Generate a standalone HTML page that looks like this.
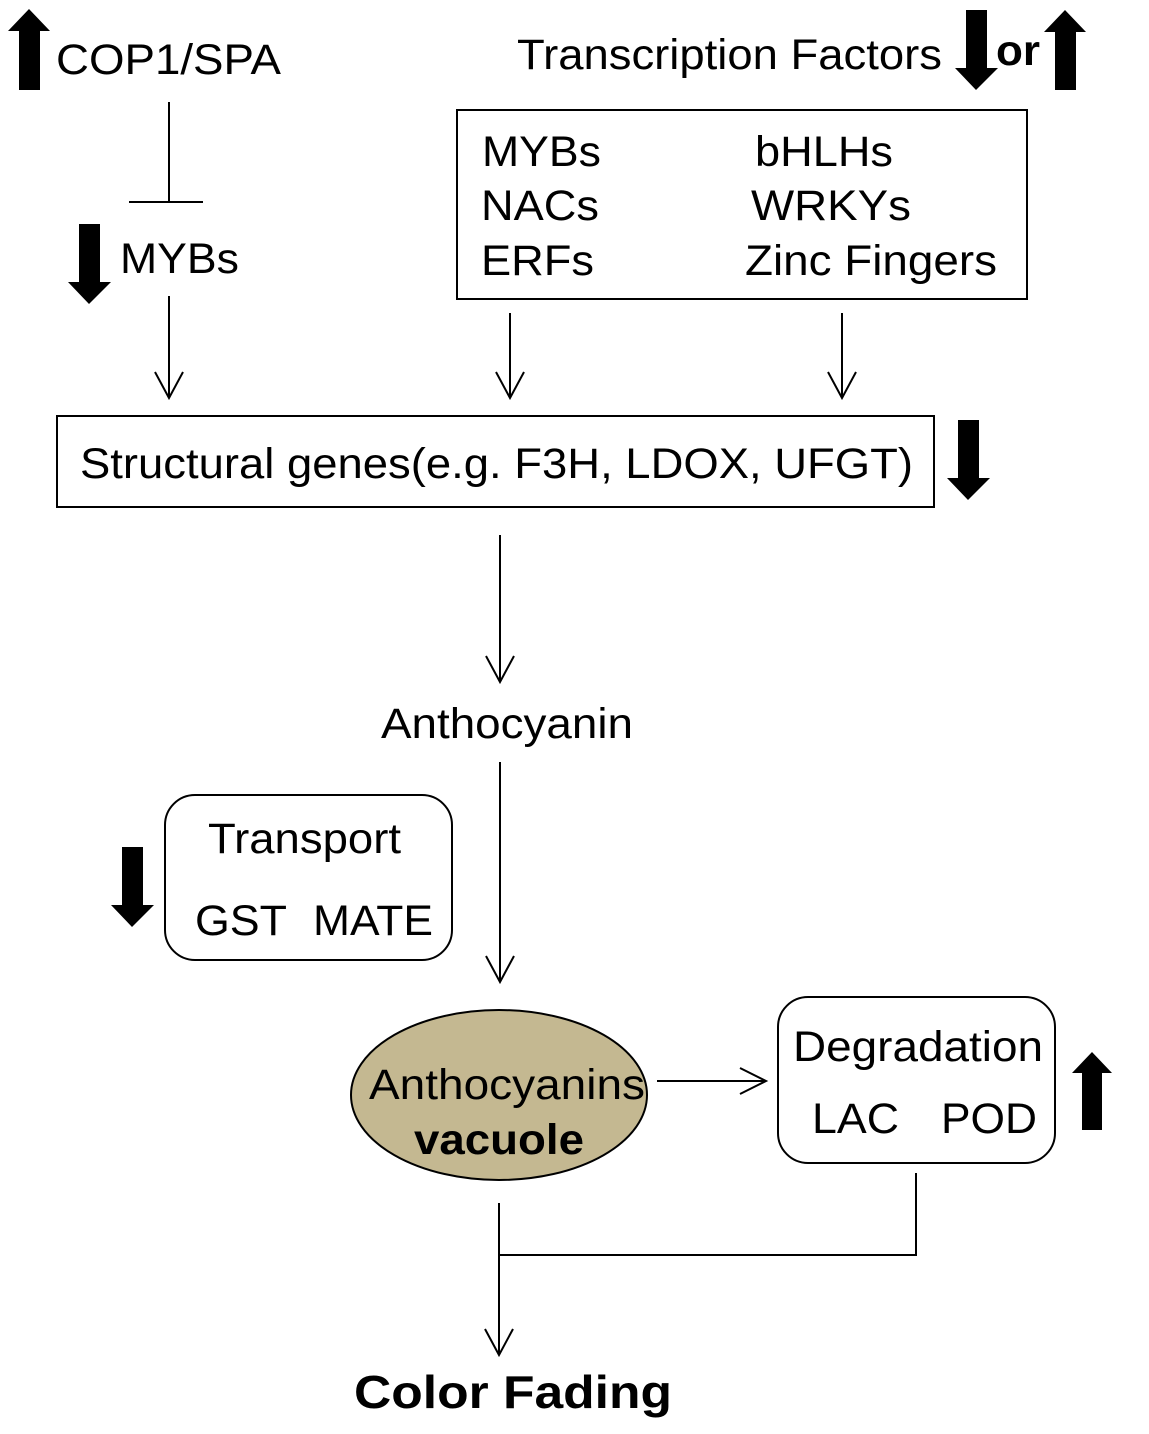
<!DOCTYPE html>
<html><head><meta charset="utf-8"><style>html,body{margin:0;padding:0;background:#fff}svg{display:block}</style></head>
<body>
<svg width="1149" height="1434" viewBox="0 0 1149 1434" xmlns="http://www.w3.org/2000/svg" font-family="Liberation Sans, Arial, sans-serif" fill="#000">
<g stroke="#000" stroke-width="2" fill="none">
<line x1="169" y1="102" x2="169" y2="202"/><line x1="129" y1="202" x2="203" y2="202"/>
<line x1="169" y1="296" x2="169" y2="398"/><polyline points="155,372 169,398 183,372"/>
<line x1="510" y1="313" x2="510" y2="398"/><polyline points="496,372 510,398 524,372"/>
<line x1="842" y1="313" x2="842" y2="398"/><polyline points="828,372 842,398 856,372"/>
<rect x="457" y="110" width="570" height="189"/>
<rect x="57" y="416" width="877" height="91"/>
<line x1="500" y1="535" x2="500" y2="682"/><polyline points="486,656 500,682 514,656"/>
<line x1="500" y1="762" x2="500" y2="982"/><polyline points="486,956 500,982 514,956"/>
<rect x="165" y="795" width="287" height="165" rx="30"/>
<rect x="778" y="997" width="277" height="166" rx="30"/>
<line x1="657" y1="1081" x2="766" y2="1081"/><polyline points="740,1068 766,1081 740,1094"/>
<polyline points="916,1173 916,1255 499,1255"/>
<line x1="499" y1="1203" x2="499" y2="1355"/><polyline points="485,1329 499,1355 513,1329"/>
</g>
<ellipse cx="499" cy="1095" rx="148" ry="85" fill="#c4b891" stroke="#000" stroke-width="2"/>
<polygon points="29,9 50,31 40,31 40,90 19,90 19,31 8,31"/>
<polygon points="79,224 100,224 100,282 111,282 89,304 68,282 79,282"/>
<polygon points="966,10 987,10 987,68 998,68 976,90 955,68 966,68"/>
<polygon points="1065,10 1086,32 1076,32 1076,90 1055,90 1055,32 1044,32"/>
<polygon points="958,420 979,420 979,478 990,478 968,500 947,478 958,478"/>
<polygon points="122,847 143,847 143,905 154,905 132,927 111,905 122,905"/>
<polygon points="1092,1052 1112,1073 1102,1073 1102,1130 1082,1130 1082,1073 1072,1073"/>
<g font-size="43">
<text x="56" y="74" textLength="225" lengthAdjust="spacingAndGlyphs">COP1/SPA</text>
<text x="120" y="273" textLength="119" lengthAdjust="spacingAndGlyphs">MYBs</text>
<text x="517" y="69" textLength="425" lengthAdjust="spacingAndGlyphs">Transcription Factors</text>
<text x="996" y="65" font-weight="bold" textLength="44" lengthAdjust="spacingAndGlyphs">or</text>
<text x="482" y="166" textLength="119" lengthAdjust="spacingAndGlyphs">MYBs</text>
<text x="481" y="220" textLength="118" lengthAdjust="spacingAndGlyphs">NACs</text>
<text x="481" y="275" textLength="113" lengthAdjust="spacingAndGlyphs">ERFs</text>
<text x="755" y="166" textLength="138" lengthAdjust="spacingAndGlyphs">bHLHs</text>
<text x="751" y="220" textLength="160" lengthAdjust="spacingAndGlyphs">WRKYs</text>
<text x="745" y="275" textLength="252" lengthAdjust="spacingAndGlyphs">Zinc Fingers</text>
<text x="80" y="478" textLength="833" lengthAdjust="spacingAndGlyphs">Structural genes(e.g. F3H, LDOX, UFGT)</text>
<text x="381" y="738" textLength="252" lengthAdjust="spacingAndGlyphs">Anthocyanin</text>
<text x="208" y="853" textLength="193" lengthAdjust="spacingAndGlyphs">Transport</text>
<text x="195" y="935" textLength="92" lengthAdjust="spacingAndGlyphs">GST</text>
<text x="313" y="935" textLength="120" lengthAdjust="spacingAndGlyphs">MATE</text>
<text x="369" y="1099" textLength="276" lengthAdjust="spacingAndGlyphs">Anthocyanins</text>
<text x="414" y="1154" font-weight="bold" textLength="170" lengthAdjust="spacingAndGlyphs">vacuole</text>
<text x="793" y="1061" textLength="250" lengthAdjust="spacingAndGlyphs">Degradation</text>
<text x="812" y="1133" textLength="87" lengthAdjust="spacingAndGlyphs">LAC</text>
<text x="941" y="1133" textLength="96" lengthAdjust="spacingAndGlyphs">POD</text>
<text x="354" y="1408" font-size="46" font-weight="bold" textLength="318" lengthAdjust="spacingAndGlyphs">Color Fading</text>
</g>
</svg>
</body></html>
